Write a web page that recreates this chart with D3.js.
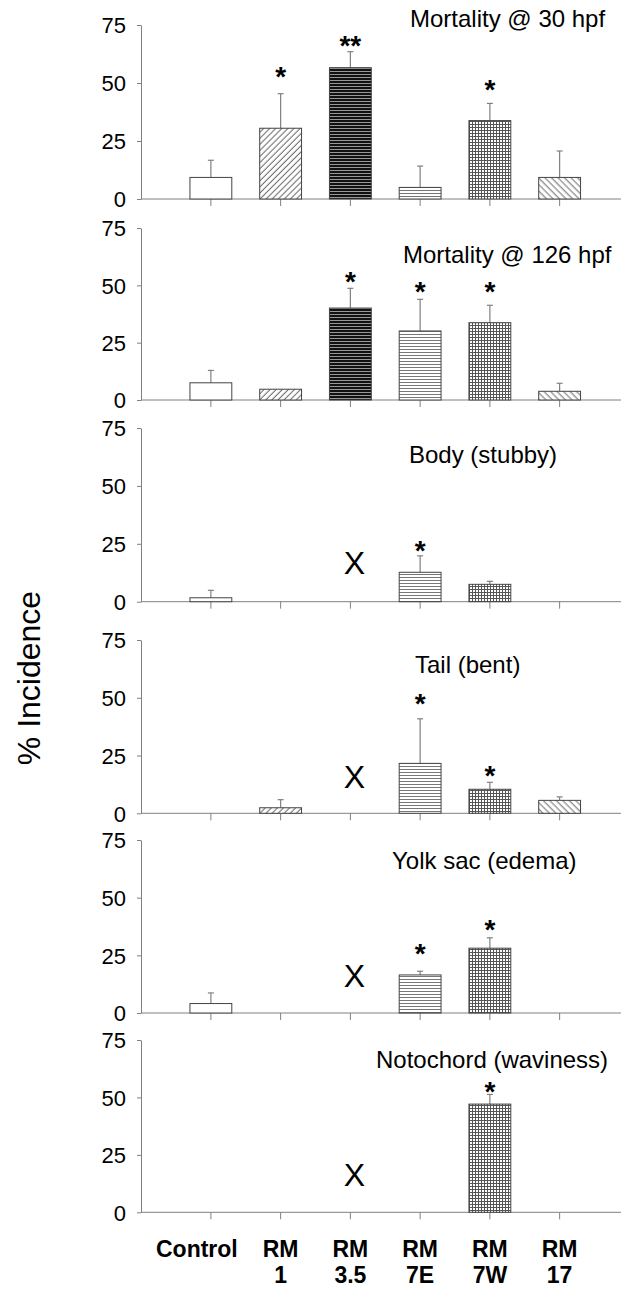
<html>
<head>
<title>% Incidence panels</title>
<script src="https://d3js.org/d3.v7.min.js"></script>
<style>
  body { margin:0; background:#fff; }
  text { font-family:"Liberation Sans", Arial, sans-serif; }
</style>
</head>
<body>
<div id="chart"></div>
<script>

// ---- data ----
var categories = ["Control", "RM 1", "RM 3.5", "RM 7E", "RM 7W", "RM 17"];
var categoryLines = [["Control"], ["RM", "1"], ["RM", "3.5"], ["RM", "7E"], ["RM", "7W"], ["RM", "17"]];
var yTicks = [0, 25, 50, 75];

var panelTitles = ["Mortality @ 30 hpf", "Mortality @ 126 hpf", "Body (stubby)",
                   "Tail (bent)", "Yolk sac (edema)", "Notochord (waviness)"];

var mort30      = [9.3, 30.5, 56.6, 5.0, 33.8, 9.3];
var mort30Sd    = [7.4, 14.9, 6.9, 9.2, 7.4, 11.4];
var mort30Star  = [null, "*", "**", null, "*", null];
var mort30StarAt = [null, 55.5, 69.0, null, 50.0, null];

var mort126      = [7.5, 4.7, 40.1, 30.1, 33.7, 3.8];
var mort126Sd    = [5.4, 0, 8.6, 13.8, 7.6, 3.5];
var mort126Star  = [null, null, "*", "*", "*", null];
var mort126StarAt = [null, null, 54.5, 50.2, 50.2, null];

var body      = [1.7, 0, null, 12.7, 7.5, 0];
var bodySd    = [3.2, 0, null, 7.1, 1.3, 0];
var bodyStar  = [null, null, null, "*", null, null];
var bodyStarAt = [null, null, null, 25.0, null, null];

var tail      = [0, 2.4, null, 21.6, 10.4, 5.6];
var tailSd    = [0, 3.5, null, 19.3, 3.0, 1.5];
var tailStar  = [null, null, null, "*", "*", null];
var tailStarAt = [null, null, null, 50.5, 19.2, null];

var yolk      = [4.1, 0, null, 16.5, 28.1, 0];
var yolkSd    = [4.6, 0, null, 1.6, 4.5, 0];
var yolkStar  = [null, null, null, "*", "*", null];
var yolkStarAt = [null, null, null, 28.6, 39.0, null];

var noto      = [0, 0, null, 0, 47.1, 0];
var notoSd    = [0, 0, null, 0, 4.2, 0];
var notoStar  = [null, null, null, null, "*", null];
var notoStarAt = [null, null, null, null, 55.4, null];

// level (in %) where the "X" (not tested) mark sits
var notTestedAt = [null, null, 17.0, 15.8, 16.2, 16.5];

var panels = [
  {values: mort30,  sd: mort30Sd,  star: mort30Star,  starAt: mort30StarAt},
  {values: mort126, sd: mort126Sd, star: mort126Star, starAt: mort126StarAt},
  {values: body,    sd: bodySd,    star: bodyStar,    starAt: bodyStarAt},
  {values: tail,    sd: tailSd,    star: tailStar,    starAt: tailStarAt},
  {values: yolk,    sd: yolkSd,    star: yolkStar,    starAt: yolkStarAt},
  {values: noto,    sd: notoSd,    star: notoStar,    starAt: notoStarAt}
];

// ---- layout ----
var W = 621, H = 1289;
var axisX = 141;
var layout = [
  {top: 25,   zero: 199,    titleX: 410, titleY: 27},
  {top: 228,  zero: 400,    titleX: 403, titleY: 263},
  {top: 428,  zero: 601.7,  titleX: 409, titleY: 463},
  {top: 640,  zero: 813.3,  titleX: 415, titleY: 673},
  {top: 840,  zero: 1013,   titleX: 392, titleY: 869},
  {top: 1040, zero: 1212.3, titleX: 376, titleY: 1068}
];

var patternIds = ["pat-ctl", "pat-rm1", "pat-rm35", "pat-rm7e", "pat-rm7w", "pat-rm17"];

var svg = d3.select("#chart").append("svg")
            .attr("width", W)
            .attr("height", H)
            .style("display", "block");

svg.append("rect").attr("width", W).attr("height", H).attr("fill", "white");

// fill patterns
var defs = svg.append("defs");

var p = defs.append("pattern").attr("id", "pat-rm1")
            .attr("patternUnits", "userSpaceOnUse")
            .attr("width", 4.3).attr("height", 10)
            .attr("patternTransform", "rotate(45)");
p.append("rect").attr("width", 4.3).attr("height", 10).attr("fill", "white");
p.append("line").attr("x1", 2).attr("x2", 2).attr("y1", 0).attr("y2", 10)
  .attr("stroke", "#555").attr("stroke-width", 0.9);

p = defs.append("pattern").attr("id", "pat-rm17")
        .attr("patternUnits", "userSpaceOnUse")
        .attr("width", 4.6).attr("height", 10)
        .attr("patternTransform", "rotate(-45)");
p.append("rect").attr("width", 4.6).attr("height", 10).attr("fill", "white");
p.append("line").attr("x1", 2).attr("x2", 2).attr("y1", 0).attr("y2", 10)
  .attr("stroke", "#555").attr("stroke-width", 0.9);

p = defs.append("pattern").attr("id", "pat-rm35")
        .attr("patternUnits", "userSpaceOnUse")
        .attr("width", 10).attr("height", 3);
p.append("rect").attr("width", 10).attr("height", 3).attr("fill", "#111");
p.append("line").attr("x1", 0).attr("x2", 10).attr("y1", 2.5).attr("y2", 2.5)
  .attr("stroke", "#bbb").attr("stroke-width", 0.8);

p = defs.append("pattern").attr("id", "pat-rm7e")
        .attr("patternUnits", "userSpaceOnUse")
        .attr("width", 10).attr("height", 3);
p.append("rect").attr("width", 10).attr("height", 3).attr("fill", "white");
p.append("line").attr("x1", 0).attr("x2", 10).attr("y1", 1.5).attr("y2", 1.5)
  .attr("stroke", "#777").attr("stroke-width", 1);

p = defs.append("pattern").attr("id", "pat-rm7w")
        .attr("patternUnits", "userSpaceOnUse")
        .attr("width", 3).attr("height", 3);
p.append("rect").attr("width", 3).attr("height", 3).attr("fill", "white");
p.append("line").attr("x1", 0).attr("x2", 3).attr("y1", 1.5).attr("y2", 1.5)
  .attr("stroke", "#555").attr("stroke-width", 1);
p.append("line").attr("x1", 1.5).attr("x2", 1.5).attr("y1", 0).attr("y2", 3)
  .attr("stroke", "#555").attr("stroke-width", 1);

function fillFor(i) {
  return i == 0 ? "white" : "url(#" + patternIds[i] + ")";
}

var x = d3.scaleBand()
          .domain(categories)
          .range([176, 594.5])
          .paddingInner(0.4)
          .paddingOuter(0.2);

panels.forEach(function(panel, pi) {
  var L = layout[pi];
  var y = d3.scaleLinear().domain([0, 75]).range([L.zero, L.top]);
  var g = svg.append("g").attr("class", "panel-" + pi);

  // y axis
  var ya = g.append("g")
            .attr("transform", "translate(" + axisX + ",0)")
            .call(d3.axisLeft(y).tickValues(yTicks).tickSize(4).tickSizeOuter(0).tickPadding(11));
  ya.select(".domain").attr("stroke", "#808080");
  ya.selectAll(".tick line").attr("stroke", "#808080");
  ya.selectAll(".tick text")
    .attr("font-size", 22)
    .attr("font-family", "'Liberation Sans', Arial, sans-serif")
    .attr("fill", "black")
    .attr("dy", "0.36em");

  // x axis baseline and category ticks
  var xa = g.append("g")
            .attr("transform", "translate(0," + L.zero + ")")
            .call(d3.axisBottom(x).tickSize(7).tickSizeOuter(0).tickFormat(""));
  xa.select(".domain").remove();
  xa.selectAll(".tick line").attr("stroke", "#808080");
  g.append("line")
   .attr("x1", axisX).attr("x2", W)
   .attr("y1", L.zero).attr("y2", L.zero)
   .attr("stroke", "#808080");

  var rows = categories.map(function(c, i) {
    return {cat: c, i: i, v: panel.values[i], sd: panel.sd[i],
            star: panel.star[i], starAt: panel.starAt[i]};
  });
  var drawn = rows.filter(function(d) { return d.v != null && d.v > 0; });

  // error bars (upper only)
  var eb = g.selectAll(".err").data(drawn.filter(function(d) { return d.sd > 0; }))
            .enter().append("g").attr("class", "err")
            .attr("stroke", "#808080").attr("stroke-width", 1.2);
  eb.append("line")
    .attr("x1", function(d) { return x(d.cat) + x.bandwidth() / 2; })
    .attr("x2", function(d) { return x(d.cat) + x.bandwidth() / 2; })
    .attr("y1", function(d) { return y(d.v); })
    .attr("y2", function(d) { return y(d.v + d.sd); });
  eb.append("line")
    .attr("x1", function(d) { return x(d.cat) + x.bandwidth() / 2 - 3; })
    .attr("x2", function(d) { return x(d.cat) + x.bandwidth() / 2 + 3; })
    .attr("y1", function(d) { return y(d.v + d.sd); })
    .attr("y2", function(d) { return y(d.v + d.sd); });

  // bars
  g.selectAll(".bar").data(drawn).enter().append("rect")
   .attr("class", "bar")
   .attr("x", function(d) { return x(d.cat); })
   .attr("width", x.bandwidth())
   .attr("y", function(d) { return y(d.v); })
   .attr("height", function(d) { return y(0) - y(d.v); })
   .attr("fill", function(d) { return fillFor(d.i); })
   .attr("stroke", "#444")
   .attr("stroke-width", 1);

  // significance stars
  g.selectAll(".star").data(rows.filter(function(d) { return d.star; }))
   .enter().append("text")
   .attr("class", "star")
   .attr("x", function(d) { return x(d.cat) + x.bandwidth() / 2; })
   .attr("y", function(d) { return y(d.starAt) + 0.58 * 28; })
   .attr("text-anchor", "middle")
   .attr("font-size", 28)
   .attr("font-weight", "bold")
   .text(function(d) { return d.star; });

  // "X" = not tested
  if (notTestedAt[pi] != null) {
    g.append("text")
     .attr("x", x("RM 3.5") + x.bandwidth() / 2 + 4)
     .attr("y", y(notTestedAt[pi]) + 0.358 * 32)
     .attr("text-anchor", "middle")
     .attr("font-size", 32)
     .text("X");
  }

  // panel title
  g.append("text")
   .attr("x", L.titleX)
   .attr("y", L.titleY)
   .attr("font-size", 24)
   .text(panelTitles[pi]);
});

// category labels under the last panel
var labelShift = {"Control": -14};
var lab = svg.append("g").selectAll("text")
             .data(categories)
             .enter().append("text")
             .attr("text-anchor", "middle")
             .attr("font-size", 23)
             .attr("font-weight", "bold")
             .attr("y", 1257);
lab.each(function(c, i) {
  var t = d3.select(this);
  var cx = x(c) + x.bandwidth() / 2 + (labelShift[c] || 0);
  categoryLines[i].forEach(function(line, k) {
    t.append("tspan").attr("x", cx).attr("dy", k == 0 ? 0 : 26).text(line);
  });
});

// y title
svg.append("text")
   .attr("transform", "translate(39.5,678) rotate(-90)")
   .attr("text-anchor", "middle")
   .attr("font-size", 32)
   .text("% Incidence");

</script>
</body>
</html>
